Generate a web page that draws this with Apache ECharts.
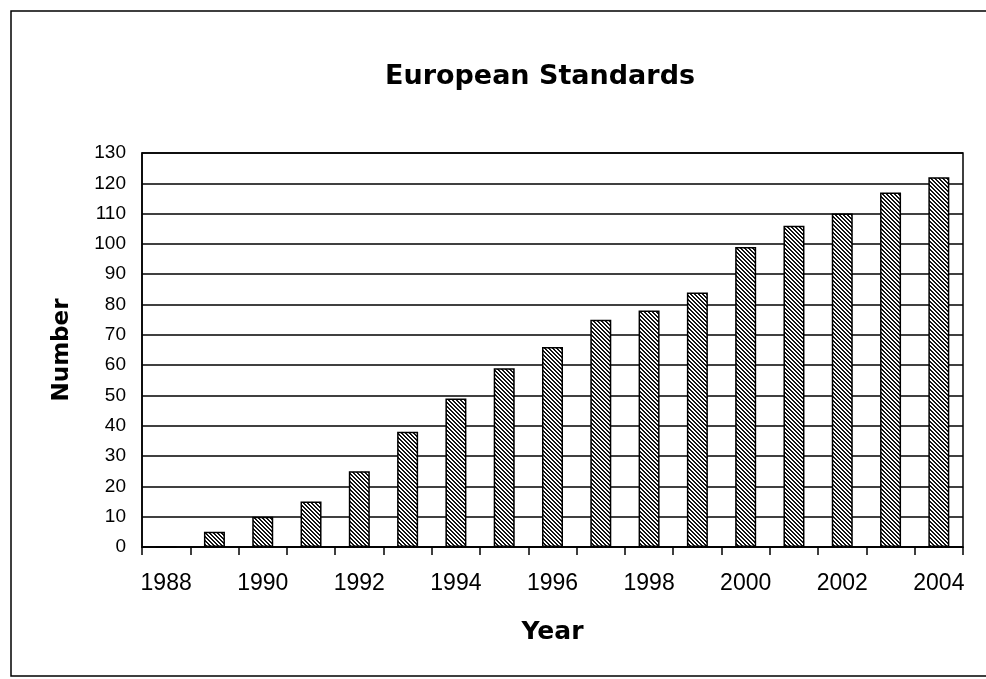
<!DOCTYPE html>
<html>
<head>
<meta charset="utf-8">
<script src="https://cdn.jsdelivr.net/npm/echarts@6/dist/echarts.min.js"></script>
<style>
html,body{margin:0;padding:0;background:#fff;}
#chart{width:986px;height:679px;}
</style>
</head>
<body>
<div id="chart"></div>
<script>
const years = ['1988','1989','1990','1991','1992','1993','1994','1995','1996','1997','1998','1999','2000','2001','2002','2003','2004'];
const numbers = [0,5,10,15,25,38,49,59,66,75,78,84,99,106,110,117,122];
const yTicks = {min:0, max:130, interval:10};
const titleText = 'European Standards';
const xName = 'Year';
const yName = 'Number';

// diagonal hatch pattern
const tile = document.createElement('canvas');
tile.width = 4; tile.height = 4;
const tctx = tile.getContext('2d');
const img = tctx.createImageData(4,4);
for (let y=0;y<4;y++){
  for (let x=0;x<4;x++){
    const dark = (((x - y) % 4) + 4) % 4 < 2;
    const i = (y*4+x)*4;
    const v = dark ? 20 : 255;
    img.data[i]=v; img.data[i+1]=v; img.data[i+2]=v; img.data[i+3]=255;
  }
}
tctx.putImageData(img,0,0);

const chart = echarts.init(document.getElementById('chart'), null, {renderer:'canvas'});
chart.setOption({
  backgroundColor:'#fff',
  animation:false,
  title:{
    text:titleText,
    left:535, top:58, textAlign:'center',
    textStyle:{fontFamily:'DejaVu Sans', fontWeight:'bold', fontSize:27, color:'#000'}
  },
  graphic:[{
    type:'rect', silent:true, z:-1,
    shape:{x:11,y:11,width:1000,height:665},
    style:{fill:'none', stroke:'#000', lineWidth:1.5}
  }],
  grid:{left:142, right:23, top:153, bottom:132, show:true, borderColor:'#000', borderWidth:1.5, backgroundColor:'#fff'},
  xAxis:{
    type:'category', data:years, boundaryGap:true,
    name:xName, nameLocation:'middle', nameGap:73,
    nameTextStyle:{fontFamily:'DejaVu Sans', fontWeight:'bold', fontSize:25, color:'#000'},
    axisLine:{lineStyle:{color:'#000', width:1.5}},
    axisTick:{show:true, interval:0, length:8, lineStyle:{color:'#000', width:1.5}},
    axisLabel:{interval:1, margin:25, fontFamily:'Liberation Sans', fontSize:23, color:'#000'},
    splitLine:{show:false}
  },
  yAxis:{
    type:'value', min:yTicks.min, max:yTicks.max, interval:yTicks.interval,
    name:yName, nameLocation:'middle', nameGap:68,
    nameTextStyle:{fontFamily:'DejaVu Sans', fontWeight:'bold', fontSize:23, color:'#000'},
    axisLine:{show:true, lineStyle:{color:'#000', width:1.5}},
    axisTick:{show:false},
    axisLabel:{margin:16, fontFamily:'Liberation Sans', fontSize:19, color:'#000'},
    splitLine:{show:true, lineStyle:{color:'#000', width:1.5}}
  },
  series:[{
    type:'bar', data:numbers, barWidth:21,
    itemStyle:{color:{image:tile, repeat:'repeat'}, borderColor:'#000', borderWidth:1.5}
  }]
});
</script>
</body>
</html>
